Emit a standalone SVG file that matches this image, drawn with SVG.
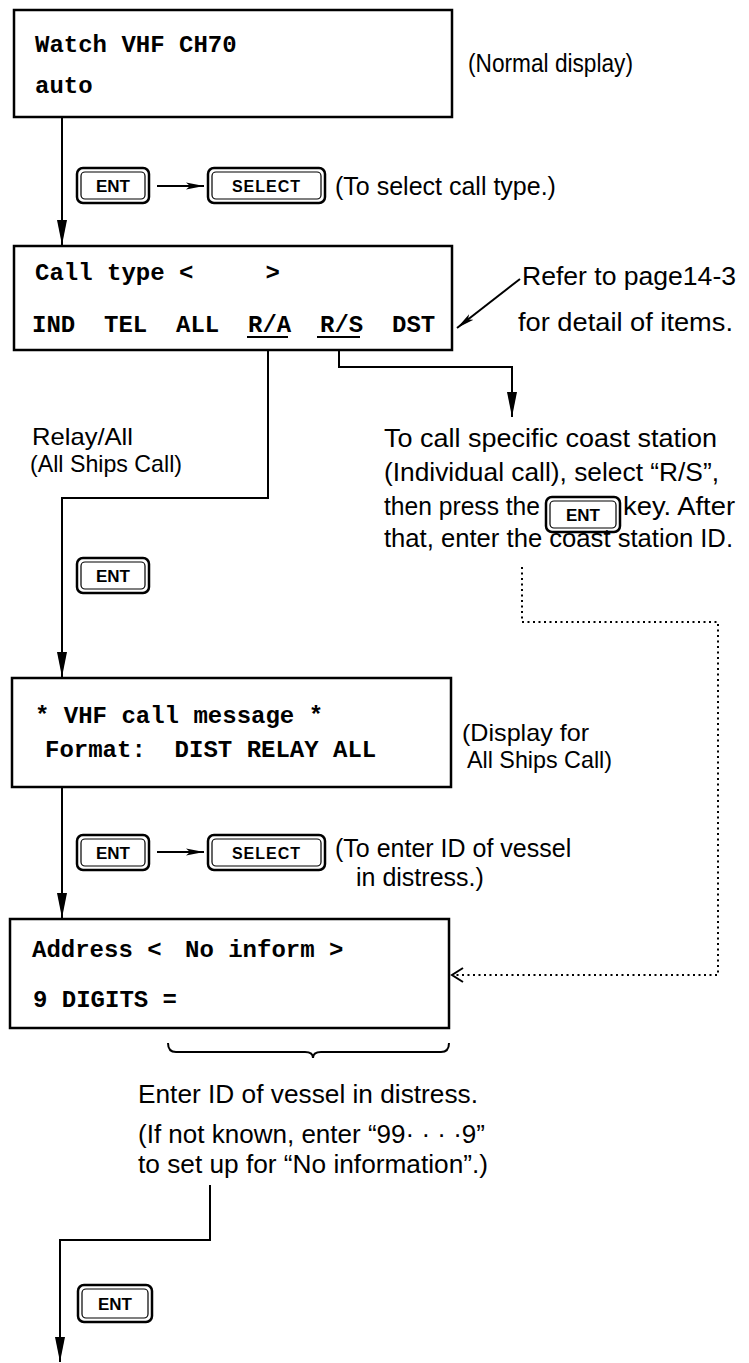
<svg xmlns="http://www.w3.org/2000/svg" width="749" height="1363" viewBox="0 0 749 1363">
<style>
.box{fill:#fff;stroke:#000;stroke-width:2.5}
.mono{font-family:"Liberation Mono","Courier New",monospace;font-weight:bold;font-size:24px;fill:#000}
.sans{font-family:"Liberation Sans",Arial,sans-serif;font-size:24px;fill:#000}
.ln{fill:none;stroke:#000;stroke-width:2}
.dot{fill:none;stroke:#000;stroke-width:2;stroke-dasharray:2 3.5}
.ko{fill:#fff;stroke:#000;stroke-width:2.5}
.ki{fill:none;stroke:#000;stroke-width:1.2}
.kt{font-family:"Liberation Sans",Arial,sans-serif;font-weight:bold;font-size:17px;fill:#000;text-anchor:middle}
</style>
<defs>
<marker id="ah" markerUnits="userSpaceOnUse" markerWidth="30" markerHeight="14" refX="25" refY="6" orient="auto">
<path d="M0,1 L25,6 L0,11 Z" fill="#000"/>
</marker>
<marker id="ahs" markerUnits="userSpaceOnUse" markerWidth="22" markerHeight="10" refX="18" refY="4" orient="auto">
<path d="M0,0.5 L18,4 L0,7.5 L4,4 Z" fill="#000"/>
</marker>
<marker id="aho" markerUnits="userSpaceOnUse" markerWidth="14" markerHeight="16" refX="12" refY="8" orient="auto">
<path d="M1,1 L12,8 L1,15" fill="none" stroke="#000" stroke-width="2"/>
</marker>
</defs>

<g id="connectors">
<path class="ln" d="M62,117 V245" marker-end="url(#ah)"/>
<path class="ln" d="M157,186 H204" marker-end="url(#ahs)"/>
<path class="ln" d="M268,337 V498 H62 V677" marker-end="url(#ah)"/>
<path class="ln" d="M339,337 V367 H512 V417" marker-end="url(#ah)"/>
<path class="ln" d="M520,279 L457,328" marker-end="url(#ahs)"/>
<path class="ln" d="M62,787 V918" marker-end="url(#ah)"/>
<path class="ln" d="M157,852 H204" marker-end="url(#ahs)"/>
<path class="dot" d="M522,567 V622 H718 V975 H452" marker-end="url(#aho)"/>
<path class="ln" d="M210,1185 V1240 H60 V1362" marker-end="url(#ah)"/>
<path class="ln" d="M168,1043 Q168,1052 176,1052 H305 Q313,1052 313,1058 Q313,1052 321,1052 H441 Q449,1052 449,1043"/>
</g>

<g id="normal-display">
<rect class="box" x="14" y="10" width="438" height="107"/>
<text class="mono" x="35" y="52">Watch VHF CH70</text>
<text class="mono" x="35" y="93">auto</text>
<text class="sans" x="468" y="72" style="font-size:25px" textLength="165" lengthAdjust="spacingAndGlyphs">(Normal display)</text>
</g>

<g id="keys-1">
<rect class="ko" x="77" y="168" width="72" height="35" rx="6"/>
<rect class="ki" x="81" y="172" width="64" height="27" rx="4"/>
<text class="kt" x="113" y="192">ENT</text>
<rect class="ko" x="208" y="168" width="117" height="35" rx="6"/>
<rect class="ki" x="212" y="172" width="109" height="27" rx="4"/>
<text class="kt" x="266.5" y="192" style="font-size:16px;letter-spacing:1px">SELECT</text>
<text class="sans" x="335" y="195" style="font-size:25px">(To select call type.)</text>
</g>

<g id="call-type">
<rect class="box" x="14" y="246" width="438" height="104"/>
<text class="mono" x="35" y="280" xml:space="preserve">Call type &lt;     &gt;</text>
<text class="mono" x="32" y="332" xml:space="preserve">IND  TEL  ALL  R/A  R/S  DST</text>
<path class="ln" d="M247,337 H288 M317,337 H360"/>
<text class="sans" x="522" y="285" style="font-size:26px" textLength="214" lengthAdjust="spacingAndGlyphs">Refer to page14-3</text>
<text class="sans" x="518" y="331" style="font-size:26px" textLength="215" lengthAdjust="spacingAndGlyphs">for detail of items.</text>
</g>

<g id="relay-all">
<text class="sans" x="32" y="445" textLength="101" lengthAdjust="spacingAndGlyphs">Relay/All</text>
<text class="sans" x="30" y="472" textLength="152" lengthAdjust="spacingAndGlyphs">(All Ships Call)</text>
<rect class="ko" x="77" y="558" width="72" height="35" rx="6"/>
<rect class="ki" x="81" y="562" width="64" height="27" rx="4"/>
<text class="kt" x="113" y="582">ENT</text>
</g>

<g id="relay-specific">
<text class="sans" x="384" y="447" style="font-size:25px" textLength="333" lengthAdjust="spacingAndGlyphs">To call specific coast station</text>
<text class="sans" x="384" y="481" style="font-size:25px" textLength="335" lengthAdjust="spacingAndGlyphs">(Individual call), select “R/S”,</text>
<text class="sans" x="384" y="515" style="font-size:25px" textLength="156" lengthAdjust="spacingAndGlyphs">then press the</text>
<rect class="ko" x="546" y="497" width="74" height="35" rx="6"/>
<rect class="ki" x="550" y="501" width="66" height="27" rx="4"/>
<text class="kt" x="583" y="521">ENT</text>
<text class="sans" x="623" y="515" style="font-size:25px" textLength="112" lengthAdjust="spacingAndGlyphs">key. After</text>
<text class="sans" x="384" y="547" style="font-size:25px" textLength="349" lengthAdjust="spacingAndGlyphs">that, enter the coast station ID.</text>
</g>

<g id="vhf-call-message">
<rect class="box" x="12" y="678" width="439" height="109"/>
<text class="mono" x="35" y="723">* VHF call message *</text>
<text class="mono" x="45" y="757" xml:space="preserve">Format:  DIST RELAY ALL</text>
<text class="sans" x="462" y="741" textLength="127" lengthAdjust="spacingAndGlyphs">(Display for</text>
<text class="sans" x="467" y="768" textLength="145" lengthAdjust="spacingAndGlyphs">All Ships Call)</text>
</g>

<g id="keys-2">
<rect class="ko" x="77" y="835" width="72" height="35" rx="6"/>
<rect class="ki" x="81" y="839" width="64" height="27" rx="4"/>
<text class="kt" x="113" y="859">ENT</text>
<rect class="ko" x="208" y="835" width="117" height="35" rx="6"/>
<rect class="ki" x="212" y="839" width="109" height="27" rx="4"/>
<text class="kt" x="266.5" y="859" style="font-size:16px;letter-spacing:1px">SELECT</text>
<text class="sans" x="335" y="857" style="font-size:25px">(To enter ID of vessel</text>
<text class="sans" x="356" y="886" style="font-size:25px">in distress.)</text>
</g>

<g id="address">
<rect class="box" x="10" y="919" width="439" height="109"/>
<text class="mono" x="32" y="957">Address &lt; <tspan x="185">No inform &gt;</tspan></text>
<text class="mono" x="33" y="1007">9 DIGITS =</text>
</g>

<g id="enter-id">
<text class="sans" x="138" y="1103" style="font-size:26px" textLength="340" lengthAdjust="spacingAndGlyphs">Enter ID of vessel in distress.</text>
<text class="sans" x="138" y="1143" style="font-size:25px" textLength="347" lengthAdjust="spacingAndGlyphs">(If not known, enter “99· · · ·9”</text>
<text class="sans" x="138" y="1173" style="font-size:25px" textLength="350" lengthAdjust="spacingAndGlyphs">to set up for “No information”.)</text>
<rect class="ko" x="78" y="1285" width="74" height="37" rx="6"/>
<rect class="ki" x="82" y="1289" width="66" height="29" rx="4"/>
<text class="kt" x="115" y="1310">ENT</text>
</g>
</svg>
